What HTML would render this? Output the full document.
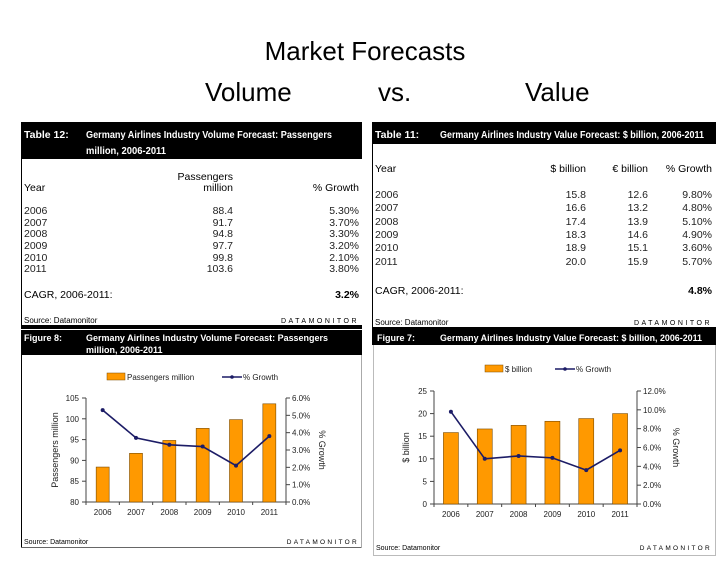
<!DOCTYPE html>
<html><head><meta charset="utf-8"><style>
html,body{margin:0;padding:0;background:#fff;}
svg{display:block;font-family:"Liberation Sans",sans-serif;}
.n{font-family:"Liberation Sans Narrow","Liberation Sans",sans-serif;}
</style></head><body>
<svg id="s" width="728" height="563" viewBox="0 0 728 563" xmlns="http://www.w3.org/2000/svg">
<g font-size="26" fill="#000">
<text x="365" y="60" text-anchor="middle">Market Forecasts</text>
<text x="205" y="101">Volume</text><text x="378" y="101">vs.</text><text x="525" y="101">Value</text>
</g>
<!-- Left table -->
<g class="n" font-size="10.5">
<rect x="21" y="122" width="341" height="37" fill="#000"/>
<text x="24" y="138" fill="#fff" font-weight="bold">Table 12:</text>
<text x="86" y="138" fill="#fff" font-weight="bold" textLength="246" lengthAdjust="spacingAndGlyphs">Germany Airlines Industry Volume Forecast: Passengers</text>
<text x="86" y="154" fill="#fff" font-weight="bold" textLength="80" lengthAdjust="spacingAndGlyphs">million, 2006-2011</text>
<line x1="21.5" y1="159" x2="21.5" y2="325" stroke="#000"/>
<text x="233" y="180" text-anchor="end">Passengers</text>
<text x="24" y="191">Year</text><text x="233" y="191" text-anchor="end">million</text><text x="359" y="191" text-anchor="end">% Growth</text>
<g fill="#222">
<text x="24" y="214">2006</text><text x="233" y="214" text-anchor="end">88.4</text><text x="359" y="214" text-anchor="end">5.30%</text>
<text x="24" y="226">2007</text><text x="233" y="226" text-anchor="end">91.7</text><text x="359" y="226" text-anchor="end">3.70%</text>
<text x="24" y="237">2008</text><text x="233" y="237" text-anchor="end">94.8</text><text x="359" y="237" text-anchor="end">3.30%</text>
<text x="24" y="249">2009</text><text x="233" y="249" text-anchor="end">97.7</text><text x="359" y="249" text-anchor="end">3.20%</text>
<text x="24" y="261">2010</text><text x="233" y="261" text-anchor="end">99.8</text><text x="359" y="261" text-anchor="end">2.10%</text>
<text x="24" y="272">2011</text><text x="233" y="272" text-anchor="end">103.6</text><text x="359" y="272" text-anchor="end">3.80%</text>
</g>
<text x="24" y="298">CAGR, 2006-2011:</text><text x="359" y="298" text-anchor="end" font-weight="bold">3.2%</text>
<text x="24" y="323" font-size="8">Source: Datamonitor</text>
<text x="359" y="323" font-size="7" text-anchor="end" letter-spacing="2.5">DATAMONITOR</text>
<rect x="21" y="325" width="341" height="4" fill="#000"/>
</g>
<!-- Right table -->
<g class="n" font-size="10.5">
<rect x="372" y="122" width="344" height="22" fill="#000"/>
<text x="375" y="138" fill="#fff" font-weight="bold">Table 11:</text>
<text x="440" y="138" fill="#fff" font-weight="bold" textLength="264" lengthAdjust="spacingAndGlyphs">Germany Airlines Industry Value Forecast: $ billion, 2006-2011</text>
<line x1="372.5" y1="144" x2="372.5" y2="327" stroke="#000"/>
<text x="375" y="172">Year</text><text x="586" y="172" text-anchor="end">$ billion</text><text x="648" y="172" text-anchor="end">€ billion</text><text x="712" y="172" text-anchor="end">% Growth</text>
<g fill="#222">
<text x="375" y="198">2006</text><text x="586" y="198" text-anchor="end">15.8</text><text x="648" y="198" text-anchor="end">12.6</text><text x="712" y="198" text-anchor="end">9.80%</text>
<text x="375" y="211">2007</text><text x="586" y="211" text-anchor="end">16.6</text><text x="648" y="211" text-anchor="end">13.2</text><text x="712" y="211" text-anchor="end">4.80%</text>
<text x="375" y="225">2008</text><text x="586" y="225" text-anchor="end">17.4</text><text x="648" y="225" text-anchor="end">13.9</text><text x="712" y="225" text-anchor="end">5.10%</text>
<text x="375" y="238">2009</text><text x="586" y="238" text-anchor="end">18.3</text><text x="648" y="238" text-anchor="end">14.6</text><text x="712" y="238" text-anchor="end">4.90%</text>
<text x="375" y="251">2010</text><text x="586" y="251" text-anchor="end">18.9</text><text x="648" y="251" text-anchor="end">15.1</text><text x="712" y="251" text-anchor="end">3.60%</text>
<text x="375" y="265">2011</text><text x="586" y="265" text-anchor="end">20.0</text><text x="648" y="265" text-anchor="end">15.9</text><text x="712" y="265" text-anchor="end">5.70%</text>
</g>
<text x="375" y="294">CAGR, 2006-2011:</text><text x="712" y="294" text-anchor="end" font-weight="bold">4.8%</text>
<text x="375" y="325" font-size="8">Source: Datamonitor</text>
<text x="712" y="325" font-size="7" text-anchor="end" letter-spacing="2.5">DATAMONITOR</text>
<rect x="372" y="327" width="344" height="3" fill="#000"/>
</g>
<!-- Figure frames -->
<g>
<rect x="21" y="330" width="341" height="25" fill="#000"/>
<text x="24" y="341" fill="#fff" font-size="9" font-weight="bold">Figure 8:</text>
<text x="86" y="341" fill="#fff" font-size="9" font-weight="bold" textLength="242" lengthAdjust="spacingAndGlyphs">Germany Airlines Industry Volume Forecast: Passengers</text>
<text x="86" y="353" fill="#fff" font-size="9" font-weight="bold">million, 2006-2011</text>
<line x1="21.5" y1="355" x2="21.5" y2="548" stroke="#000"/>
<line x1="21" y1="547.5" x2="362" y2="547.5" stroke="#666"/>
<line x1="361.5" y1="355" x2="361.5" y2="548" stroke="#aaa"/>
<text x="24" y="544" font-size="7">Source: Datamonitor</text>
<text x="359" y="544" font-size="6.5" text-anchor="end" letter-spacing="2.3">DATAMONITOR</text>
</g>
<g>
<rect x="372" y="330" width="344" height="15" fill="#000"/>
<text x="377" y="341" fill="#fff" font-size="9" font-weight="bold">Figure 7:</text>
<text x="440" y="341" fill="#fff" font-size="9" font-weight="bold" textLength="262" lengthAdjust="spacingAndGlyphs">Germany Airlines Industry Value Forecast: $ billion, 2006-2011</text>
<line x1="373.5" y1="345" x2="373.5" y2="556" stroke="#bbb"/>
<line x1="715.5" y1="345" x2="715.5" y2="556" stroke="#bbb"/>
<line x1="373" y1="555.5" x2="716" y2="555.5" stroke="#bbb"/>
<text x="376" y="550" font-size="7">Source: Datamonitor</text>
<text x="712" y="550" font-size="6.5" text-anchor="end" letter-spacing="2.3">DATAMONITOR</text>
</g>
<g id="c1"></g><g id="c2"></g>
</svg>
<script>
const years = ["2006","2007","2008","2009","2010","2011"];
const paxValues = [88.4, 91.7, 94.8, 97.7, 99.8, 103.6];
const paxGrowth = [5.3, 3.7, 3.3, 3.2, 2.1, 3.8];
const paxLeftTicks = [80, 85, 90, 95, 100, 105];
const paxRightTicks = [0, 1, 2, 3, 4, 5, 6];
const valValues = [15.8, 16.6, 17.4, 18.3, 18.9, 20.0];
const valGrowth = [9.8, 4.8, 5.1, 4.9, 3.6, 5.7];
const valLeftTicks = [0, 5, 10, 15, 20, 25];
const valRightTicks = [0, 2, 4, 6, 8, 10, 12];
const NS = "http://www.w3.org/2000/svg";
function mk(p, tag, at, txt){const e=document.createElementNS(NS,tag);for(const k in at)e.setAttribute(k,at[k]);if(txt!==undefined)e.textContent=txt;p.appendChild(e);return e;}
function chart(g, cfg){
  const {L,R,T,B,lmin,lmax,rmax,vals,gr,lt,rt,barLabel,ytitle,ytx,rtx,legY,legX,legX2,bw}=cfg;
  const n=years.length, step=(R-L)/n;
  const xc=i=>L+step*(i+0.5);
  const yl=v=>B-(v-lmin)/(lmax-lmin)*(B-T);
  const yr=v=>B-v/rmax*(B-T);
  mk(g,'line',{x1:L,y1:T,x2:L,y2:B,stroke:'#444'});
  mk(g,'line',{x1:R,y1:T,x2:R,y2:B,stroke:'#444'});
  mk(g,'line',{x1:L,y1:B,x2:R,y2:B,stroke:'#444'});
  lt.forEach(v=>{mk(g,'line',{x1:L-4,y1:yl(v),x2:L,y2:yl(v),stroke:'#444'});
    const t=mk(g,'text',{x:L-7,y:yl(v)+3,'font-size':8,'text-anchor':'end',fill:'#222'},String(v));
    
    });
  rt.forEach(v=>{mk(g,'line',{x1:R,y1:yr(v),x2:R+4,y2:yr(v),stroke:'#444'});
    const t=mk(g,'text',{x:R+6,y:yr(v)+3,'font-size':8,fill:'#222'},v.toFixed(1)+'%');
    
    });
  for(let i=0;i<=n;i++)mk(g,'line',{x1:L+step*i,y1:B,x2:L+step*i,y2:B+3,stroke:'#444'});
  vals.forEach((v,i)=>{
    const b=mk(g,'rect',{x:xc(i)-bw/2,y:yl(v),width:bw,height:B-yl(v),fill:'#FF9900',stroke:'#7a4a00','stroke-width':0.6});
    
    
    const t=mk(g,'text',{x:xc(i),y:B+13,'font-size':8,'text-anchor':'middle',fill:'#222'},years[i]);
    
    
  });
  const pl=mk(g,'polyline',{points:gr.map((v,i)=>xc(i)+','+yr(v)).join(' '),fill:'none',stroke:'#1c1c66','stroke-width':1.6});
  
  
  gr.forEach((v,i)=>{const c=mk(g,'circle',{cx:xc(i),cy:yr(v),r:2,fill:'#1c1c66'});
    
    });
  const yt=mk(g,'text',{transform:`translate(${ytx},${(T+B)/2}) rotate(-90)`,'font-size':9,'text-anchor':'middle',fill:'#222'},ytitle);
  
  
  const rtt=mk(g,'text',{transform:`translate(${rtx},${(T+B)/2}) rotate(90)`,'font-size':9,'text-anchor':'middle',fill:'#222'},'% Growth');
  
  
  const lg=mk(g,'g',{});
  
  
  mk(lg,'rect',{x:legX,y:legY-4,width:18,height:7,fill:'#FF9900',stroke:'#7a4a00','stroke-width':0.5});
  mk(lg,'text',{x:legX+20,y:legY+3,'font-size':8,fill:'#222'},barLabel);
  mk(lg,'line',{x1:legX2,y1:legY,x2:legX2+20,y2:legY,stroke:'#1c1c66','stroke-width':1.6});
  mk(lg,'circle',{cx:legX2+10,cy:legY,r:1.8,fill:'#1c1c66'});
  mk(lg,'text',{x:legX2+21,y:legY+3,'font-size':8,fill:'#222'},'% Growth');
}
const c1=document.getElementById('c1');


chart(c1,{L:86,R:286,T:398,B:502,lmin:80,lmax:105,rmax:6,vals:paxValues,gr:paxGrowth,lt:paxLeftTicks,rt:paxRightTicks,barLabel:'Passengers million',ytitle:'Passengers million',ytx:58,rtx:319,legY:377,legX:107,legX2:222,bw:13});
const c2=document.getElementById('c2');


chart(c2,{L:434,R:637,T:391,B:504,lmin:0,lmax:25,rmax:12,vals:valValues,gr:valGrowth,lt:valLeftTicks,rt:valRightTicks,barLabel:'$ billion',ytitle:'$ billion',ytx:409,rtx:673,legY:369,legX:485,legX2:555,bw:15});
</script>
</body></html>
